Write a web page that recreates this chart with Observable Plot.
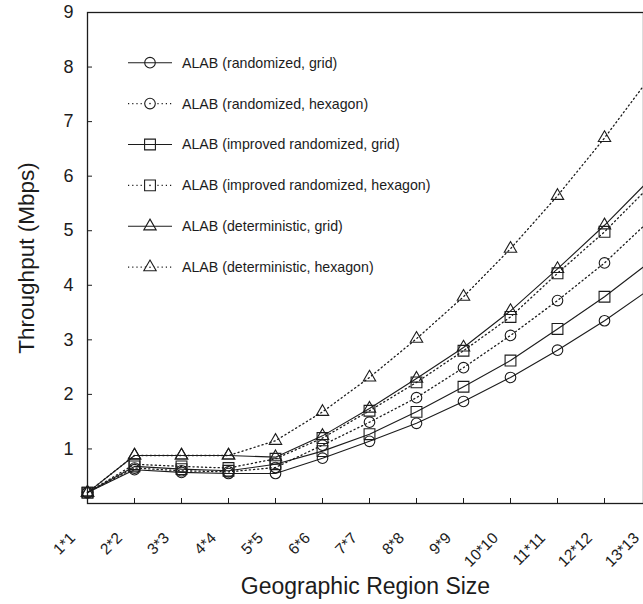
<!DOCTYPE html>
<html>
<head>
<meta charset="utf-8">
<script src="https://cdn.jsdelivr.net/npm/d3@7"></script>
<script src="https://cdn.jsdelivr.net/npm/@observablehq/plot@0.6"></script>
<style>
  html, body { margin: 0; padding: 0; background: #fff; overflow: hidden; }
  #chart { width: 643px; height: 604px; }
</style>
</head>
<body>
<div id="chart"></div>
<script>
// Region sizes on the x axis
const sizes = ["1*1", "2*2", "3*3", "4*4", "5*5", "6*6", "7*7", "8*8", "9*9", "10*10", "11*11", "12*12", "13*13"];
const yTicks = [1, 2, 3, 4, 5, 6, 7, 8, 9];

// Throughput (Mbps) per scheme
const randGrid     = [0.20, 0.62, 0.57, 0.55, 0.55, 0.83, 1.14, 1.47, 1.87, 2.31, 2.81, 3.35, 3.95];
const randHex      = [0.20, 0.65, 0.60, 0.58, 0.66, 1.07, 1.49, 1.94, 2.49, 3.08, 3.72, 4.41, 5.22];
const imprGrid     = [0.20, 0.68, 0.63, 0.60, 0.72, 0.96, 1.27, 1.68, 2.14, 2.62, 3.20, 3.79, 4.45];
const imprHex      = [0.20, 0.72, 0.68, 0.65, 0.82, 1.20, 1.70, 2.22, 2.80, 3.42, 4.22, 4.98, 5.85];
const detGrid      = [0.20, 0.88, 0.88, 0.88, 0.85, 1.24, 1.74, 2.29, 2.86, 3.53, 4.30, 5.10, 5.97];
const detHex       = [0.20, 0.88, 0.88, 0.88, 1.15, 1.68, 2.31, 3.02, 3.79, 4.67, 5.64, 6.70, 7.85];

const seriesNames = [
  "ALAB (randomized, grid)",
  "ALAB (randomized, hexagon)",
  "ALAB (improved randomized, grid)",
  "ALAB (improved randomized, hexagon)",
  "ALAB (deterministic, grid)",
  "ALAB (deterministic, hexagon)"
];
const seriesValues = [randGrid, randHex, imprGrid, imprHex, detGrid, detHex];
const seriesSymbols = ["circle", "circle", "square", "square", "triangle", "triangle"];
const seriesDotted = [false, true, false, true, false, true];

const ink = "#1c1c1c";
const dash = "1.2,3";
const symbolR = {circle: 5.3, square: 6.1, triangle: 4.6};

const rows = seriesNames.flatMap((name, s) =>
  seriesValues[s].map((v, i) => ({
    series: name, size: sizes[i], value: v,
    symbol: seriesSymbols[s], dotted: seriesDotted[s]
  }))
);

const font = "'Liberation Sans', Arial, Helvetica, sans-serif";

const plot = Plot.plot({
  width: 643,
  height: 604,
  marginLeft: 87,
  marginTop: 12,
  marginBottom: 101,
  marginRight: 0,
  style: {fontFamily: font, background: "#fff", color: ink, overflow: "hidden"},
  x: {type: "point", domain: sizes, range: [87, 651], padding: 0},
  y: {domain: [0, 9], range: [503, 12]},
  marks: [
    Plot.frame({stroke: ink, strokeWidth: 1.3}),
    Plot.axisY({
      ticks: yTicks, tickSize: -5, tickPadding: 19, fontSize: 18,
      stroke: ink, fill: ink, label: null
    }),
    // inward tick marks along the bottom edge
    Plot.axisX({
      tickSize: -5, tickFormat: () => "", stroke: ink, label: null
    }),
    // rotated region-size labels
    Plot.axisX({
      tickSize: 0, tickPadding: 32, tickRotate: -45, fontSize: 15.5,
      dx: -15, fill: ink, label: null
    }),
    Plot.line(rows.filter(d => !d.dotted), {
      x: "size", y: "value", z: "series", stroke: ink, strokeWidth: 1.1
    }),
    Plot.line(rows.filter(d => d.dotted), {
      x: "size", y: "value", z: "series", stroke: ink, strokeWidth: 1.3,
      strokeDasharray: dash
    }),
    ...["circle", "square", "triangle"].map(sym =>
      Plot.dot(rows.filter(d => d.symbol === sym), {
        x: "size", y: "value", symbol: () => sym, r: symbolR[sym],
        stroke: ink, strokeWidth: 1.1, fill: "none"
      })
    ),
    Plot.text(["Throughput (Mbps)"], {
      frameAnchor: "left", textAnchor: "middle", lineAnchor: "middle",
      dx: -61, rotate: -90, fontSize: 22.5, fill: ink
    }),
    Plot.text(["Geographic Region Size"], {
      frameAnchor: "bottom", textAnchor: "middle", lineAnchor: "middle",
      dy: 83, fontSize: 23, fill: ink
    })
  ]
});

// Legend in the upper-left corner of the plot area
const svg = d3.select(plot);
const legend = svg.append("g")
  .attr("font-family", font).attr("font-size", 14.2).attr("text-anchor", "start");
seriesNames.forEach((name, i) => {
  const y = 62.7 + i * 40.9;
  const g = legend.append("g");
  g.append("line")
    .attr("x1", 128).attr("x2", 172).attr("y1", y).attr("y2", y)
    .attr("stroke", ink)
    .attr("stroke-width", seriesDotted[i] ? 1.3 : 1.1)
    .attr("stroke-dasharray", seriesDotted[i] ? dash : null);
  const sym = seriesSymbols[i];
  const type = sym === "circle" ? d3.symbolCircle : sym === "square" ? d3.symbolSquare : d3.symbolTriangle;
  g.append("path")
    .attr("d", d3.symbol(type, Math.PI * symbolR[sym] ** 2)())
    .attr("transform", `translate(150,${y})`)
    .attr("fill", seriesDotted[i] ? "#fff" : "none")
    .attr("stroke", ink).attr("stroke-width", 1.1);
  if (seriesDotted[i]) {
    g.append("circle").attr("cx", 150).attr("cy", y).attr("r", 0.8).attr("fill", ink);
  }
  g.append("text")
    .attr("x", 182).attr("y", y).attr("dy", "0.35em")
    .attr("fill", ink)
    .text(name);
});

document.getElementById("chart").appendChild(plot);
</script>
</body>
</html>
